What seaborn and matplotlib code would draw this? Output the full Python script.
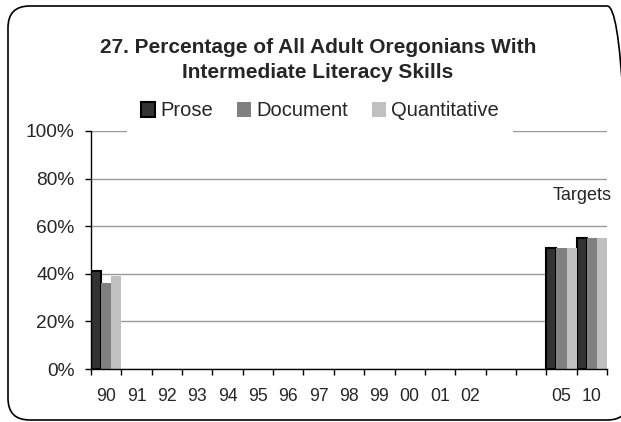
import numpy as np
import pandas as pd
import seaborn as sns
import matplotlib.pyplot as plt
from matplotlib.patches import FancyBboxPatch, Patch

# chart data
years = ['90', '91', '92', '93', '94', '95', '96', '97', '98', '99', '00', '01', '02', '03', '04', '05', '10']
tick_labels = ['90', '91', '92', '93', '94', '95', '96', '97', '98', '99', '00', '01', '02', '', '', '05', '10']
series = ['Prose', 'Document', 'Quantitative']
prose = [41] + [np.nan] * 14 + [51, 55]
document = [36] + [np.nan] * 14 + [51, 55]
quantitative = [39] + [np.nan] * 14 + [51, 55]
colors = ['#333333', '#808080', '#c0c0c0']

df = pd.DataFrame({'year': years, 'Prose': prose, 'Document': document, 'Quantitative': quantitative})
long_df = df.melt(id_vars='year', var_name='series', value_name='pct').dropna()

sns.set_style('white')
plt.rcParams['font.family'] = ['Liberation Sans', 'DejaVu Sans']

fig = plt.figure(figsize=(6.21, 4.22), dpi=100)
ax = fig.add_axes([91 / 621, 1 - 369 / 422, 516 / 621, 238 / 422])

sns.barplot(data=long_df, x='year', y='pct', hue='series', order=years, hue_order=series,
            palette=colors, width=1.0, gap=0, saturation=1, linewidth=0, legend=False, ax=ax)

# black outline on the Prose bars
for bar in ax.containers[0]:
    bar.set_edgecolor('black')
    bar.set_linewidth(1.5)

ax.set_xlim(-0.5, len(years) - 0.5)
ax.set_ylim(0, 100)
ax.set_yticks(range(0, 101, 20))
ax.set_yticklabels([f'{v}%' for v in range(0, 101, 20)], fontsize=13.8)
ax.set_xticks(range(len(years)))
ax.set_xticklabels(tick_labels, fontsize=12.7)
ax.set_xticks(np.arange(-0.5, len(years), 1), minor=True)
ax.tick_params(axis='x', which='major', length=0, pad=13.5)
ax.tick_params(axis='x', which='minor', length=4, width=1, color='black', bottom=True)
ax.tick_params(axis='y', length=4, width=1, color='black', left=True, pad=8)
ax.set_xlabel('')
ax.set_ylabel('')

ax.yaxis.grid(True, color='#999999', linewidth=1)
ax.set_axisbelow(True)
for side in ['top', 'right']:
    ax.spines[side].set_visible(False)
for side in ['left', 'bottom']:
    ax.spines[side].set_color('black')
    ax.spines[side].set_linewidth(1)

ax.text(15.68, 73, 'Targets', ha='center', va='center', fontsize=13)

fig.suptitle('27. Percentage of All Adult Oregonians With\nIntermediate Literacy Skills',
             x=318 / 621, y=1 - 60 / 422, va='center', fontsize=15, fontweight='bold',
             linespacing=1.45)

handles = [Patch(facecolor=colors[0], edgecolor='black', linewidth=1.5),
           Patch(facecolor=colors[1], edgecolor='none'),
           Patch(facecolor=colors[2], edgecolor='none')]
leg = fig.legend(handles, series, loc='center', bbox_to_anchor=(320 / 621, 1 - 111 / 422),
                 ncol=3, fontsize=14.5, frameon=True, facecolor='white', edgecolor='none',
                 framealpha=1, fancybox=False, handlelength=0.7, handleheight=0.7,
                 handletextpad=0.25, columnspacing=1.2, borderpad=0.7)
leg.set_zorder(5)

# rounded outer border, right edge runs just past the image
border = FancyBboxPatch((8 / 621, 2 / 422), 621 / 621, 414 / 422,
                        boxstyle='round,pad=0,rounding_size=0.035', mutation_aspect=621 / 422,
                        transform=fig.transFigure, facecolor='none', edgecolor='black',
                        linewidth=1.2, clip_on=False)
fig.patches.append(border)

fig.savefig('out.png', dpi=100)
